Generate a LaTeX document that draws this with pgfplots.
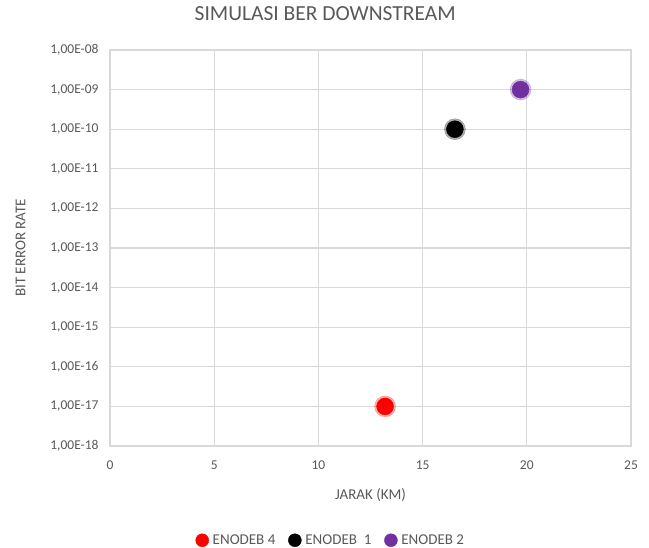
\documentclass[border=0pt]{standalone}
\usepackage{pgfplots}
\pgfplotsset{compat=1.18}
\usepackage{fontspec}
\setmainfont{Carlito}
\definecolor{txt}{RGB}{89,89,89}
\definecolor{gridc}{RGB}{217,217,217}
\definecolor{ppl}{RGB}{112,48,160}
\begin{document}
\begin{tikzpicture}
\useasboundingbox (-110bp,-102bp) rectangle (539bp,446bp);
\begin{axis}[
  at={(0,0)}, anchor=south west,
  scale only axis,
  width=521bp, height=396bp,
  xmin=0, xmax=25,
  ymode=log, ymin=1e-18, ymax=1e-8,
  xtick={0,5,10,15,20,25},
  ytick={1e-18,1e-17,1e-16,1e-15,1e-14,1e-13,1e-12,1e-11,1e-10,1e-9,1e-8},
  yticklabels={{1,00E-18},{1,00E-17},{1,00E-16},{1,00E-15},{1,00E-14},{1,00E-13},{1,00E-12},{1,00E-11},{1,00E-10},{1,00E-09},{1,00E-08}},
  yminorticks=false, xminorticks=false,
  /pgf/number format/assume math mode=true,
  tick label style={font=\fontsize{13.5bp}{16bp}\selectfont, text=txt},
  yticklabel style={xshift=-8bp},
  xticklabel style={yshift=-11bp},
  major tick length=0pt,
  grid=major,
  major grid style={draw=gridc, line width=1.2bp},
  axis line style={draw=gridc, line width=1.2bp},
  title={SIMULASI BER DOWNSTREAM},
  title style={font=\fontsize{21.5bp}{25bp}\selectfont, text=txt, at={(axis description cs:0.413,1)}, anchor=base, yshift=24bp},
  xlabel={JARAK (KM)},
  ylabel={BIT ERROR RATE},
  label style={font=\fontsize{15bp}{18bp}\selectfont, text=txt},
  xlabel style={yshift=-12bp},
  ylabel style={yshift=18bp},
  legend columns=3,
  legend style={at={(axis description cs:0.424,-0.238)}, anchor=center, draw=none, fill=none,
    font=\fontsize{15bp}{15bp}\selectfont, text=txt,
    /tikz/every odd column/.append style={column sep=2bp},
    /tikz/every even column/.append style={column sep=11bp},
    nodes={inner xsep=2bp, inner ysep=0.5bp}},
  legend image code/.code={\draw[mark size=6.5bp] plot coordinates {(0.15cm,0cm)};},
]
\addplot[only marks, mark=*, mark size=10.5bp, color=red, opacity=0.3, forget plot] coordinates {(13.2,1e-17)};
\addplot[only marks, mark=*, mark size=10.5bp, color=black, opacity=0.3, forget plot] coordinates {(16.55,1e-10)};
\addplot[only marks, mark=*, mark size=10.5bp, color=ppl, opacity=0.3, forget plot] coordinates {(19.7,1e-9)};
\addplot[only marks, mark=*, mark size=8.5bp, color=red] coordinates {(13.2,1e-17)};
\addlegendentry{ENODEB 4}
\addplot[only marks, mark=*, mark size=8.5bp, color=black] coordinates {(16.55,1e-10)};
\addlegendentry{ENODEB\ \ 1}
\addplot[only marks, mark=*, mark size=8.5bp, color=ppl] coordinates {(19.7,1e-9)};
\addlegendentry{ENODEB 2}
\end{axis}
\end{tikzpicture}
\end{document}
